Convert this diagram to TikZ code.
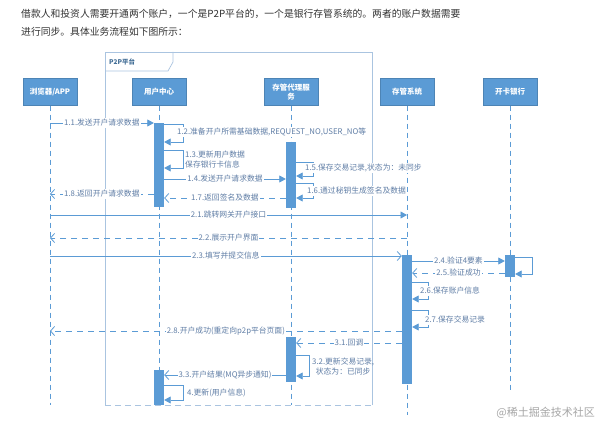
\documentclass[tikz,border=0pt]{standalone}
\usepackage{fontspec}
\setmainfont{Noto Sans CJK SC}
\usetikzlibrary{arrows.meta,shadows}
\definecolor{seqblue}{RGB}{91,155,213}
\definecolor{lblblue}{RGB}{96,126,166}
\definecolor{frameblue}{RGB}{170,196,224}
\definecolor{introgray}{RGB}{51,51,51}

\begin{document}
\begin{tikzpicture}[
    x=1pt, y=-1pt,
    font=\fontsize{7.8}{10}\selectfont,
    head/.style={draw=seqblue!85!black, fill=seqblue, text=white, font=\fontsize{7.5}{9}\selectfont\bfseries, minimum width=54pt, minimum height=27pt, inner sep=1pt, align=center, drop shadow={shadow xshift=1pt, shadow yshift=-1pt, opacity=0.25}},
    life/.style={draw=seqblue, line width=0.8pt, dash pattern=on 5pt off 4pt},
    bar/.style={fill=seqblue, minimum width=10pt, inner sep=0pt, anchor=north},
    sync/.style={draw=seqblue, line width=0.8pt, -{Triangle[length=6.5pt,width=7pt]}},
    async/.style={draw=seqblue, line width=0.8pt, -{Straight Barb[length=4pt,width=9pt]}},
    reply/.style={async, dash pattern=on 6pt off 5pt},
    msg/.style={midway, fill=white, inner sep=1pt, text=lblblue},
    note/.style={fill=white, inner sep=1pt, text=lblblue, anchor=west, align=left}
]
    \fill[white] (0,0) rectangle (600,425);
    \useasboundingbox (0,0) rectangle (600,425);

    \node[anchor=west, inner sep=0pt, text=introgray, font=\fontsize{9.8}{12}\selectfont] (intro1) at (21,14) {借款人和投资人需要开通两个账户，一个是P2P平台的，一个是银行存管系统的。两者的账户数据需要};
    \node[anchor=west, inner sep=0pt, text=introgray, font=\fontsize{9.8}{12}\selectfont] (intro2) at (21,32) {进行同步。具体业务流程如下图所示：};

    \draw[frameblue, line width=0.7pt] (105,405) -- (105,52) -- (372,52) -- (372,405);
    \draw[frameblue, line width=0.7pt, dash pattern=on 6pt off 4pt] (105,405) -- (372,405);
    \draw[frameblue, line width=0.7pt] (105,71) -- (168,71) -- (173,62) -- (173,52);
    \node[anchor=west, inner sep=0pt, text=seqblue!70!black, font=\fontsize{6.5}{8}\selectfont\bfseries] (p2ptag) at (109,62) {P2P平台};

    \node[head] (browser) at (50,92) {浏览器/APP};
    \node[head] (usercenter) at (159,92) {用户中心};
    \node[head] (agent) at (291,92) {存管代理服\\务};
    \node[head] (depository) at (407,92) {存管系统};
    \node[head] (bank) at (510,92) {开卡银行};

    \draw[life] (browser.south) -- (browser |- 0,405);
    \draw[life] (usercenter.south) -- (usercenter |- 0,405);
    \draw[life] (agent.south) -- (agent |- 0,405);
    \draw[life] (depository.south) -- (depository |- 0,415);
    \draw[life] (bank.south) -- (bank |- 0,393);

    \node[bar, minimum height=84pt] (uc1) at (159,123) {};
    \node[bar, minimum height=66pt] (ag1) at (291,142) {};
    \node[bar, minimum height=129pt] (dp1) at (407,255) {};
    \node[bar, minimum height=22pt] (bk1) at (510,255) {};
    \node[bar, minimum height=45pt] (ag2) at (291,337) {};
    \node[bar, minimum height=35pt] (uc2) at (159,370) {};

    \draw[sync] (browser |- 0,123) -- node[msg] {1.1.发送开户请求数据} (uc1.west |- 0,123);
    \draw[sync] (uc1.east |- 0,124) -- ++(19,0) |- (uc1.east |- 0,142);
    \node[note] (m12) at (176,132) {1.2.准备开户所需基础数据,REQUEST\_NO,USER\_NO等};
    \draw[sync] (uc1.east |- 0,150) -- ++(19,0) |- (uc1.east |- 0,168);
    \node[note, fill=none] (m13) at (184,160) {1.3.更新用户数据\\保存银行卡信息};
    \draw[sync] (uc1.east |- 0,179) -- node[msg] {1.4.发送开户请求数据} (ag1.west |- 0,179);
    \draw[sync] (ag1.east |- 0,162) -- ++(17,0) |- (ag1.east |- 0,176);
    \node[note] (m15) at (304,168) {1.5.保存交易记录,状态为：未同步};
    \draw[sync] (ag1.east |- 0,183) -- ++(17,0) |- (ag1.east |- 0,198);
    \node[note] (m16) at (306,191) {1.6.通过秘钥生成签名及数据};
    \draw[reply] (ag1.west |- 0,198) -- node[msg] {1.7.返回签名及数据} (uc1.east |- 0,198);
    \draw[reply] (uc1.west |- 0,194) -- node[msg] {1.8.返回开户请求数据} (browser |- 0,194);

    \draw[sync] (browser |- 0,215) -- node[msg] {2.1.跳转网关开户接口} (depository |- 0,215);
    \draw[reply] (depository |- 0,238) -- node[msg] {2.2.展示开户界面} (browser |- 0,238);
    \draw[async] (browser |- 0,256) -- node[msg] {2.3.填写并提交信息} (dp1.west |- 0,256);
    \draw[sync] (dp1.east |- 0,261) -- node[msg] {2.4.验证4要素} (bk1.west |- 0,261);
    \draw[sync] (bk1.east |- 0,257) -- ++(17,0) |- (bk1.east |- 0,274);
    \draw[reply] (bk1.west |- 0,273) -- node[msg] {2.5.验证成功} (dp1.east |- 0,273);
    \draw[sync] (dp1.east |- 0,282) -- ++(16,0) |- (dp1.east |- 0,299);
    \node[note] (m26) at (419,291) {2.6.保存账户信息};
    \draw[sync] (dp1.east |- 0,310) -- ++(16,0) |- (dp1.east |- 0,327);
    \node[note] (m27) at (424,320) {2.7.保存交易记录};
    \draw[reply] (dp1.west |- 0,331) -- node[msg] {2.8.开户成功(重定向p2p平台页面)} (browser |- 0,331);

    \draw[reply] (dp1.west |- 0,343) -- node[msg] {3.1.回调} (ag2.east |- 0,343);
    \draw[sync] (ag2.east |- 0,355) -- ++(13,0) |- (ag2.east |- 0,376);
    \node[note, fill=none, align=center] (m32) at (311,367) {3.2.更新交易记录,\\状态为：已同步};
    \draw[async] (ag2.west |- 0,375) -- node[msg] {3.3.开户结果(MQ异步通知)} (uc2.east |- 0,375);
    \draw[sync] (uc2.east |- 0,385) -- ++(19,0) |- (uc2.east |- 0,400);
    \node[note, fill=none] (m4) at (186,393) {4.更新(用户信息)};

    \node[anchor=east, inner sep=0pt, text=gray!70, font=\fontsize{11}{13}\selectfont] (mark) at (595,413) {@稀土掘金技术社区};
\end{tikzpicture}
\end{document}
